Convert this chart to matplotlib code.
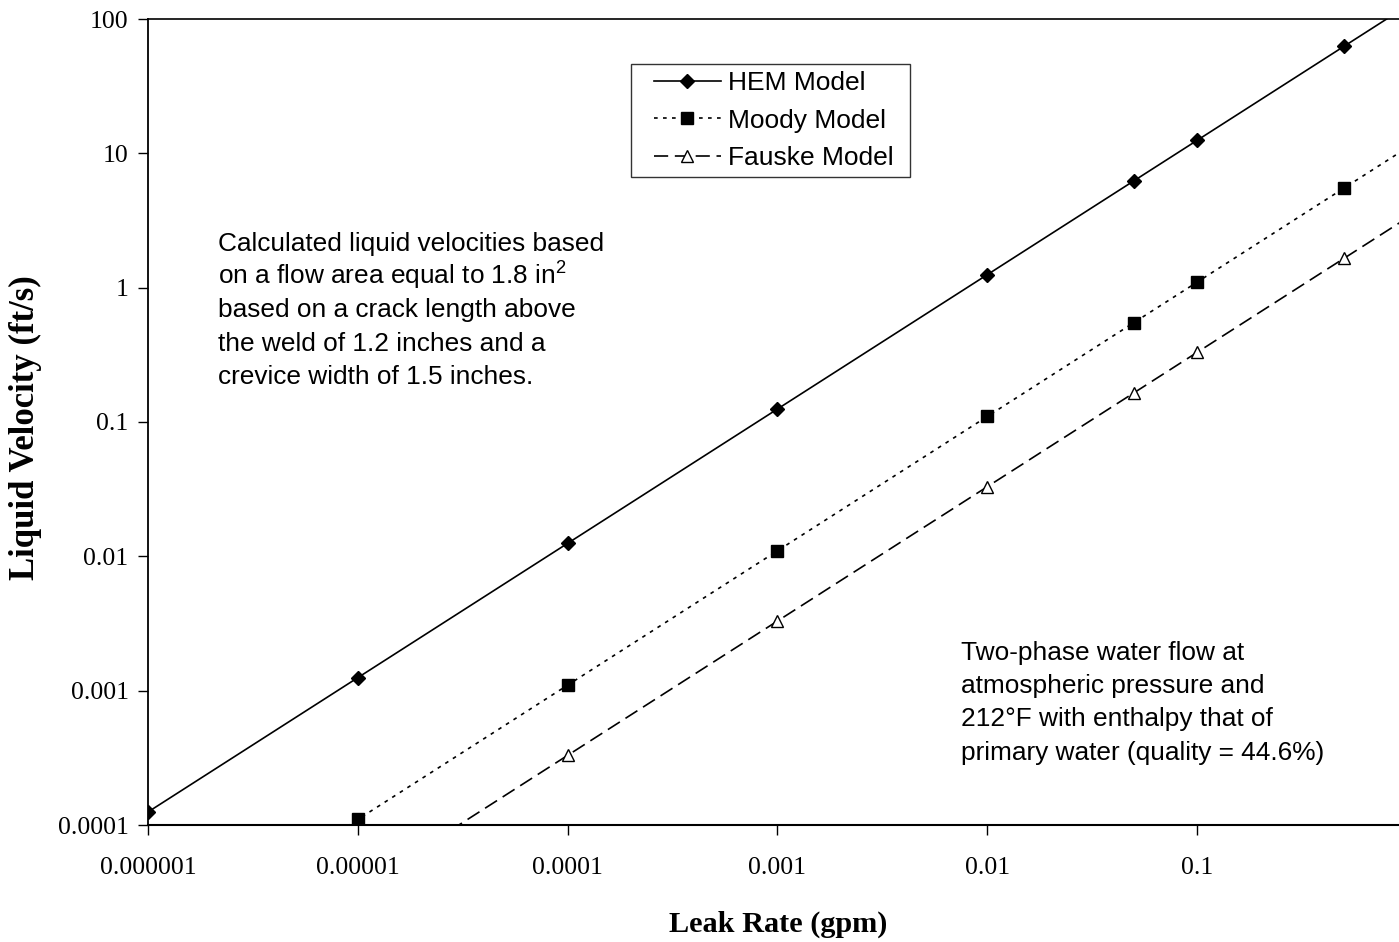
import matplotlib
matplotlib.use("Agg")
import matplotlib.pyplot as plt
from matplotlib.lines import Line2D
from matplotlib.legend_handler import HandlerLine2D
from matplotlib.ticker import FixedLocator, FixedFormatter, NullLocator

plt.rcParams['mathtext.fontset'] = 'custom'
plt.rcParams['mathtext.rm'] = 'Liberation Sans'
plt.rcParams['mathtext.it'] = 'Liberation Sans:italic'

# Leak rates (gpm) and calculated liquid velocities (ft/s)
hem_rate = [0.000001, 0.00001, 0.0001, 0.001, 0.01, 0.05, 0.1, 0.5, 1.0]
hem_vel = [0.000125, 0.00125, 0.0125, 0.125, 1.25, 6.25, 12.5, 62.5, 125.0]

moody_rate = [0.000001, 0.00001, 0.0001, 0.001, 0.01, 0.05, 0.1, 0.5, 1.0]
moody_vel = [0.000011, 0.00011, 0.0011, 0.011, 0.11, 0.55, 1.1, 5.5, 11.0]

fauske_rate = [0.000001, 0.00001, 0.0001, 0.001, 0.01, 0.05, 0.1, 0.5, 1.0]
fauske_vel = [0.0000033, 0.000033, 0.00033, 0.0033, 0.033, 0.165, 0.33, 1.65, 3.3]

x_ticks = [0.000001, 0.00001, 0.0001, 0.001, 0.01, 0.1]
x_tick_labels = ["0.000001", "0.00001", "0.0001", "0.001", "0.01", "0.1"]
y_ticks = [0.0001, 0.001, 0.01, 0.1, 1, 10, 100]
y_tick_labels = ["0.0001", "0.001", "0.01", "0.1", "1", "10", "100"]

note_area = ["Calculated liquid velocities based",
             "on a flow area equal to 1.8 in$^{2}$",
             "based on a crack length above",
             "the weld of 1.2 inches and a",
             "crevice width of 1.5 inches."]
note_flow = ["Two-phase water flow at",
             "atmospheric pressure and",
             "212°F with enthalpy that of",
             "primary water (quality = 44.6%)"]

W, H = 1399, 942
fig = plt.figure(figsize=(W / 100, H / 100), dpi=100)
fig.patch.set_facecolor("white")

left_px, right_px, top_px, bottom_px = 148, 1407, 19, 825
aw, ah = right_px - left_px, bottom_px - top_px
ax = fig.add_axes([left_px / W, (H - bottom_px) / H, aw / W, ah / H])


def fx(px):
    return (px - left_px) / aw


def fy(py):
    return (bottom_px - py) / ah


ax.set_xscale("log")
ax.set_yscale("log")
ax.set_xlim(1e-6, 1)
ax.set_ylim(1e-4, 100)

lw = 1.2
ax.plot(hem_rate, hem_vel, color="black", lw=lw, linestyle="-",
        marker="D", markersize=7.5, markerfacecolor="black",
        markeredgecolor="black", label="HEM Model")
ax.plot(moody_rate, moody_vel, color="black", lw=lw, linestyle=(0, (2.2, 3.2)),
        marker="s", markersize=8.5, markerfacecolor="black",
        markeredgecolor="black", label="Moody Model")
ax.plot(fauske_rate, fauske_vel, color="black", lw=lw, linestyle=(0, (8.5, 4)),
        marker="^", markersize=8, markerfacecolor="white",
        markeredgecolor="black", markeredgewidth=1.0, label="Fauske Model")

ax.xaxis.set_major_locator(FixedLocator(x_ticks))
ax.xaxis.set_major_formatter(FixedFormatter(x_tick_labels))
ax.xaxis.set_minor_locator(NullLocator())
ax.yaxis.set_major_locator(FixedLocator(y_ticks))
ax.yaxis.set_major_formatter(FixedFormatter(y_tick_labels))
ax.yaxis.set_minor_locator(NullLocator())

for lab in ax.get_xticklabels() + ax.get_yticklabels():
    lab.set_fontfamily("Liberation Serif")
    lab.set_fontsize(18.5)

ax.tick_params(axis="x", direction="out", length=7, width=1.0, pad=16)
ax.tick_params(axis="y", direction="out", length=7, width=1.0, pad=7)

ax.spines["right"].set_visible(False)
ax.spines["top"].set_linewidth(1.2)
ax.spines["left"].set_linewidth(1.3)
ax.spines["bottom"].set_linewidth(1.5)

ax.set_xlabel("Leak Rate (gpm)", fontfamily="Liberation Serif",
              fontweight="bold", fontsize=21.8)
ax.xaxis.set_label_coords(fx(778), fy(911))
ax.set_ylabel("Liquid Velocity (ft/s)", fontfamily="Liberation Serif",
              fontweight="bold", fontsize=25)
ax.yaxis.set_label_coords(fx(42), fy(428))

# legend box spanning a fixed width, handles inset from the left edge
leg = ax.legend(loc="upper left",
                bbox_to_anchor=(fx(631), fy(64), fx(910) - fx(631), 0),
                mode="expand",
                handler_map={Line2D: HandlerLine2D(xpad=0.58)},
                prop={"family": "Liberation Sans", "size": 19},
                frameon=True, fancybox=False, shadow=False,
                handlelength=3.12, handletextpad=0.27, labelspacing=0.5,
                borderpad=0.28, borderaxespad=0.0)
leg.get_frame().set_edgecolor("black")
leg.get_frame().set_linewidth(1.0)

line_step = 33.2
for i, line in enumerate(note_area):
    ax.text(fx(218), fy(251 + i * line_step), line,
            transform=ax.transAxes, ha="left", va="baseline",
            fontfamily="Liberation Sans", fontsize=18.9)

for i, line in enumerate(note_flow):
    ax.text(fx(961), fy(660 + i * line_step), line,
            transform=ax.transAxes, ha="left", va="baseline",
            fontfamily="Liberation Sans", fontsize=18.9)

fig.savefig("out.png", dpi=100, facecolor="white")
